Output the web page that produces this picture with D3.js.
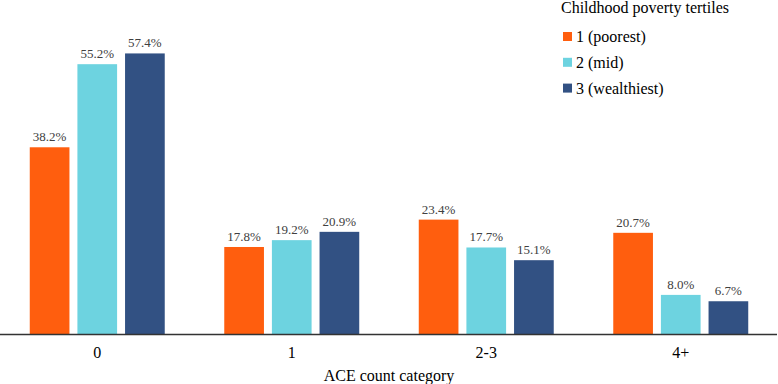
<!DOCTYPE html>
<html>
<head>
<meta charset="utf-8">
<script src="https://cdn.jsdelivr.net/npm/d3@7"></script>
<style>
  body { margin: 0; background: #fff; }
  svg { display: block; }
  svg text { font-family: "Liberation Serif", "DejaVu Serif", serif; }
</style>
</head>
<body>
<svg width="778" height="384"></svg>
<script>
const categories = ["0", "1", "2-3", "4+"];
const tertiles = ["1 (poorest)", "2 (mid)", "3 (wealthiest)"];
const poorest = [38.2, 17.8, 23.4, 20.7];
const mid = [55.2, 19.2, 17.7, 8.0];
const wealthiest = [57.4, 20.9, 15.1, 6.7];
const colors = ["#FF5E0E", "#6DD3E0", "#325183"];

const width = 778;
const baseline = 334;
const serif = "'Liberation Serif', 'DejaVu Serif', serif";

const svg = d3.select("svg");

const seriesValues = [poorest, mid, wealthiest];
const rows = [];
categories.forEach((c, i) => {
    seriesValues.forEach((vals, j) => {
        rows.push({ cat: c, tertile: tertiles[j], value: vals[i], color: colors[j] });
    });
});

const x0 = d3.scaleBand()
    .domain(categories)
    .range([0, width])
    .paddingInner(0.306)
    .paddingOuter(0.153);

const x1 = d3.scaleBand()
    .domain(tertiles)
    .range([0, x0.bandwidth()])
    .paddingInner(0.167);

const y = d3.scaleLinear()
    .domain([0, 60])
    .range([baseline, baseline - 60 * 4.888]);

// bars
svg.append("g")
    .selectAll("rect")
    .data(rows)
    .join("rect")
    .attr("x", d => x0(d.cat) + x1(d.tertile))
    .attr("y", d => y(d.value))
    .attr("width", x1.bandwidth())
    .attr("height", d => baseline - y(d.value))
    .attr("fill", d => d.color);

// value labels
svg.append("g")
    .selectAll("text")
    .data(rows)
    .join("text")
    .attr("x", d => x0(d.cat) + x1(d.tertile) + x1.bandwidth() / 2)
    .attr("y", d => y(d.value) - 6)
    .attr("text-anchor", "middle")
    .attr("font-family", serif)
    .attr("font-size", "13px")
    .attr("fill", "#404040")
    .text(d => d.value.toFixed(1) + "%");

// x axis
const xAxis = svg.append("g")
    .attr("transform", `translate(0,${baseline})`)
    .call(d3.axisBottom(x0).tickSize(0).tickPadding(13))
    .attr("font-family", serif);
xAxis.select(".domain")
    .attr("d", `M0,0.5H777`)
    .attr("stroke", "#333")
    .attr("stroke-width", 1.3);
xAxis.selectAll("text")
    .attr("font-family", serif)
    .attr("font-size", "16px")
    .attr("fill", "#000");

svg.append("text")
    .attr("x", width / 2)
    .attr("y", 380.5)
    .attr("text-anchor", "middle")
    .attr("font-family", serif)
    .attr("font-size", "16px")
    .attr("fill", "#000")
    .text("ACE count category");

// legend
const legend = svg.append("g")
    .attr("transform", "translate(561,0)");

legend.append("text")
    .attr("x", 0)
    .attr("y", 13)
    .attr("font-family", serif)
    .attr("font-size", "16px")
    .attr("fill", "#000")
    .text("Childhood poverty tertiles");

const items = legend.selectAll(".legend-item")
    .data(tertiles)
    .join("g")
    .attr("class", "legend-item")
    .attr("transform", (d, i) => `translate(0, ${36.5 + i * 25.8})`);

items.append("rect")
    .attr("x", 2)
    .attr("y", -4.5)
    .attr("width", 9)
    .attr("height", 9)
    .attr("fill", (d, i) => colors[i]);

items.append("text")
    .attr("x", 15)
    .attr("y", 5.5)
    .attr("font-family", serif)
    .attr("font-size", "16px")
    .attr("fill", "#000")
    .text(d => d);
</script>
</body>
</html>
